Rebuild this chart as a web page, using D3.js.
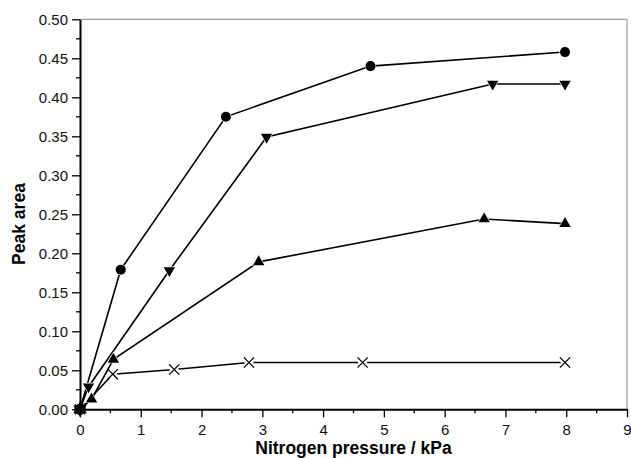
<!DOCTYPE html>
<html>
<head>
<meta charset="utf-8">
<script src="https://cdn.jsdelivr.net/npm/d3@7"></script>
<style>
  body { margin: 0; background: #fff; }
  text { font-family: "Liberation Sans", Arial, sans-serif; }
</style>
</head>
<body>
<main></main>
<script>
// data
const circleX = [0, 0.67, 2.40, 4.78, 7.98];
const circleY = [0, 0.179, 0.375, 0.440, 0.458];

const downX = [0, 0.14, 1.47, 3.07, 6.79, 7.98];
const downY = [0, 0.029, 0.178, 0.349, 0.417, 0.417];

const upX = [0, 0.19, 0.55, 2.94, 6.65, 7.98];
const upY = [0, 0.013, 0.064, 0.189, 0.244, 0.238];

const crossX = [0, 0.54, 1.55, 2.78, 4.65, 7.98];
const crossY = [0, 0.045, 0.051, 0.060, 0.060, 0.060];

const xTicks = [0, 1, 2, 3, 4, 5, 6, 7, 8, 9];
const yTicks = [0, 0.05, 0.10, 0.15, 0.20, 0.25, 0.30, 0.35, 0.40, 0.45, 0.50];

const xLabel = "Nitrogen pressure / kPa";
const yLabel = "Peak area";

// crosses first so the filled markers sit on top at the origin
const series = [
    { name: "cross", xs: crossX, ys: crossY },
    { name: "circle", xs: circleX, ys: circleY },
    { name: "down", xs: downX, ys: downY },
    { name: "up", xs: upX, ys: upY },
];

const width = 631, height = 458;
const plotL = 80, plotR = 627, plotT = 19.3, plotB = 409.3;

const svg = d3.select("main").append("svg").attr("width", width).attr("height", height);

const x = d3.scaleLinear().domain([0, 9]).range([plotL, plotR]);
const y = d3.scaleLinear().domain([0, 0.5]).range([plotB, plotT]);

// frame: thin grey on top and right
svg.append("path")
    .attr("d", `M${plotL},${plotT}H${plotR}V${plotB}`)
    .attr("fill", "none")
    .attr("stroke", "#888")
    .attr("stroke-width", 1);

// minor ticks
const xMinor = d3.range(0.5, 9, 1);
const yMinor = d3.range(0.025, 0.5, 0.05);

svg.append("g")
    .attr("stroke", "#000")
    .attr("stroke-width", 1.3)
    .selectAll("line")
    .data(xMinor)
    .join("line")
    .attr("x1", d => x(d)).attr("x2", d => x(d))
    .attr("y1", plotB).attr("y2", plotB + 4);

svg.append("g")
    .attr("stroke", "#000")
    .attr("stroke-width", 1.3)
    .selectAll("line")
    .data(yMinor)
    .join("line")
    .attr("y1", d => y(d)).attr("y2", d => y(d))
    .attr("x1", plotL).attr("x2", plotL - 4);

const xAxis = svg.append("g")
    .attr("transform", `translate(0,${plotB})`)
    .call(d3.axisBottom(x).tickValues(xTicks).tickFormat(d3.format("d")).tickSize(8).tickSizeOuter(0));

const yAxis = svg.append("g")
    .attr("transform", `translate(${plotL},0)`)
    .call(d3.axisLeft(y).tickValues(yTicks).tickFormat(d3.format(".2f")).tickSize(8).tickSizeOuter(0));

[xAxis, yAxis].forEach(g => {
    g.select(".domain").attr("stroke", "#000").attr("stroke-width", 2);
    g.selectAll(".tick line").attr("stroke", "#000").attr("stroke-width", 1.3);
    g.selectAll(".tick text")
        .attr("fill", "#111")
        .style("font-size", "15px")
        .style("font-family", "'Liberation Sans', Arial, sans-serif");
});
xAxis.selectAll(".tick text").attr("y", 15).attr("dy", "0.71em");
yAxis.selectAll(".tick text").attr("x", -12).attr("dy", "0.36em");

// axis titles
svg.append("text")
    .attr("x", (plotL + plotR) / 2)
    .attr("y", 454)
    .attr("text-anchor", "middle")
    .style("font-size", "17.5px")
    .style("font-weight", "bold")
    .text(xLabel);

svg.append("text")
    .attr("transform", `translate(25,224) rotate(-90)`)
    .attr("text-anchor", "middle")
    .style("font-size", "17.5px")
    .style("font-weight", "bold")
    .text(yLabel);

// lines
const line = d3.line().x(d => x(d[0])).y(d => y(d[1]));

svg.append("g")
    .attr("fill", "none")
    .attr("stroke", "#000")
    .attr("stroke-width", 1.6)
    .selectAll("path")
    .data(series)
    .join("path")
    .attr("d", s => line(s.xs.map((v, i) => [v, s.ys[i]])));

// markers
const points = series.flatMap(s => s.xs.map((v, i) => ({ name: s.name, x: v, y: s.ys[i] })));

const shape = {
    circle: d3.symbol(d3.symbolCircle, 80),
    down: d3.symbol(d3.symbolTriangle, 56),
    up: d3.symbol(d3.symbolTriangle, 56),
    cross: d3.symbol(d3.symbolX, 70),
};

const marks = svg.append("g")
    .selectAll("g")
    .data(points)
    .join("g")
    .attr("transform", d => `translate(${x(d.x)},${y(d.y)})` + (d.name === "down" ? " rotate(180)" : ""));

// white halo so the lines stop short of the crosses
marks.filter(d => d.name === "cross" && d.x > 0)
    .append("circle")
    .attr("r", 4.5)
    .attr("fill", "#fff");

marks.append("path")
    .attr("d", d => shape[d.name]())
    .attr("fill", d => d.name === "cross" ? "none" : "#000")
    .attr("stroke", d => d.name === "cross" ? "#000" : (d.x > 0 ? "#fff" : "#000"))
    .attr("stroke-width", d => d.name === "cross" ? 1.3 : 1.2)
    .attr("paint-order", "stroke");
</script>
</body>
</html>
